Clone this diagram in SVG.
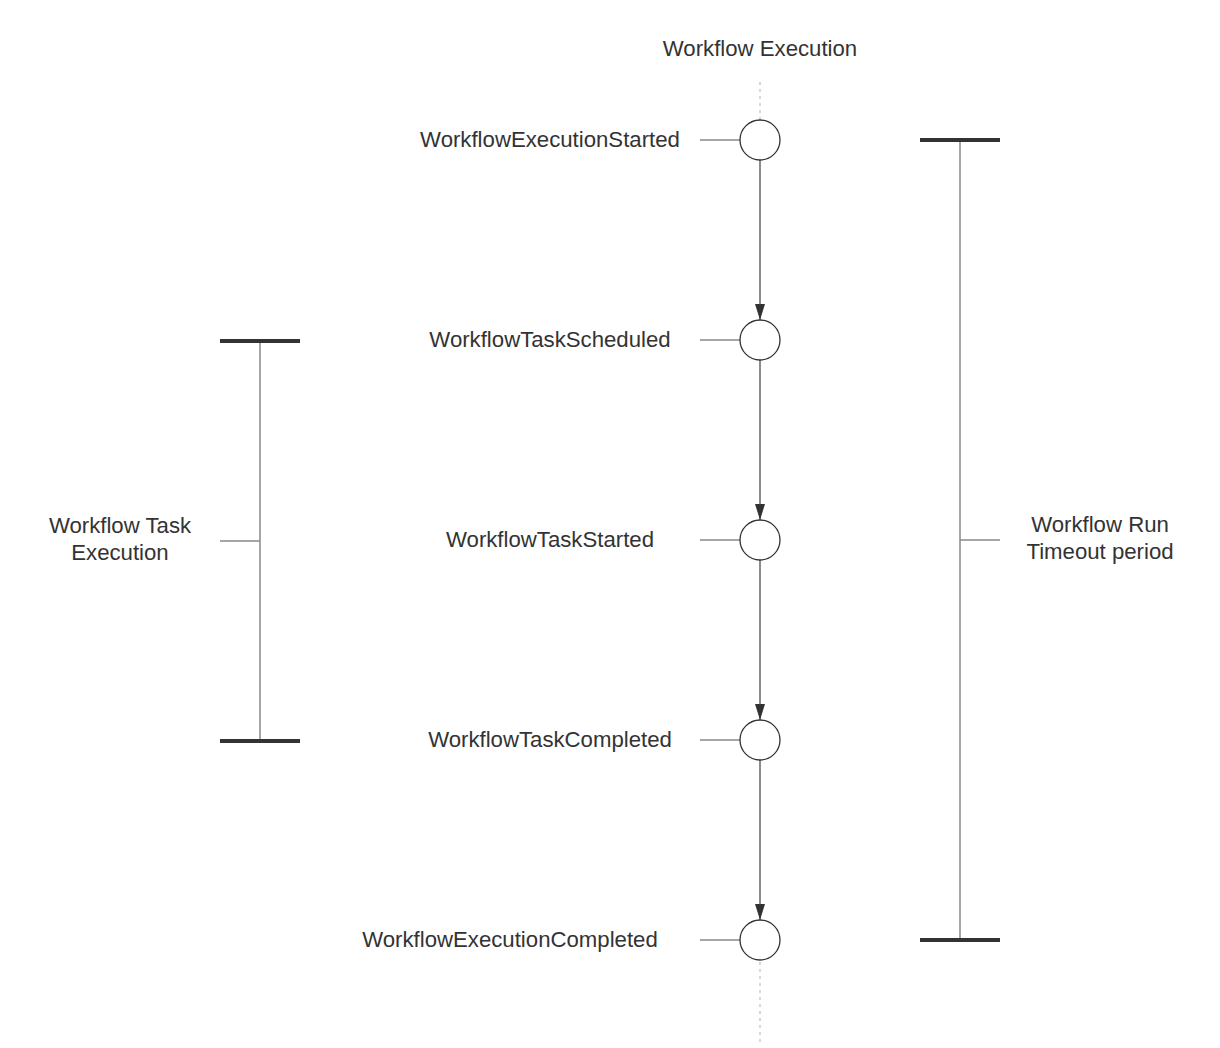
<svg xmlns="http://www.w3.org/2000/svg" width="1220" height="1048" viewBox="0 0 1220 1048">
<defs>
<marker id="ah" markerWidth="16" markerHeight="10" refX="16" refY="5" orient="auto" markerUnits="userSpaceOnUse" viewBox="0 0 16 10">
<path d="M0,0 L16,5 L0,10 Z" fill="#333"/>
</marker>
</defs>
<style>
text{font-family:"Liberation Sans",Arial,sans-serif;font-size:22.2px;fill:#333;text-anchor:middle}
.ln{stroke:#888;stroke-width:1.5;fill:none}
.bar{stroke:#333;stroke-width:4;fill:none}
.dot{stroke:#ccc;stroke-width:1.5;stroke-dasharray:3 4;fill:none}
.ev{fill:#fff;stroke:#333;stroke-width:1.3}
.arr{stroke:#666;stroke-width:1.5;fill:none}
</style>
<rect width="1220" height="1048" fill="#fff"/>
<text x="760" y="56">Workflow Execution</text>
<g id="lifeline">
<line class="dot" x1="760" y1="82" x2="760" y2="120"/>
<line class="dot" x1="760" y1="962" x2="760" y2="1042"/>
</g>
<g id="connectors">
<line class="arr" x1="760" y1="160" x2="760" y2="320" marker-end="url(#ah)"/>
<line class="arr" x1="760" y1="360" x2="760" y2="520" marker-end="url(#ah)"/>
<line class="arr" x1="760" y1="560" x2="760" y2="720" marker-end="url(#ah)"/>
<line class="arr" x1="760" y1="760" x2="760" y2="920" marker-end="url(#ah)"/>
</g>
<g id="ev1">
<line class="ln" x1="700" y1="140" x2="740" y2="140"/>
<circle class="ev" cx="760" cy="140" r="20"/>
<text x="550" y="147">WorkflowExecutionStarted</text>
</g>
<g id="ev2">
<line class="ln" x1="700" y1="340" x2="740" y2="340"/>
<circle class="ev" cx="760" cy="340" r="20"/>
<text x="550" y="347">WorkflowTaskScheduled</text>
</g>
<g id="ev3">
<line class="ln" x1="700" y1="540" x2="740" y2="540"/>
<circle class="ev" cx="760" cy="540" r="20"/>
<text x="550" y="547">WorkflowTaskStarted</text>
</g>
<g id="ev4">
<line class="ln" x1="700" y1="740" x2="740" y2="740"/>
<circle class="ev" cx="760" cy="740" r="20"/>
<text x="550" y="747">WorkflowTaskCompleted</text>
</g>
<g id="ev5">
<line class="ln" x1="700" y1="940" x2="740" y2="940"/>
<circle class="ev" cx="760" cy="940" r="20"/>
<text x="510" y="947">WorkflowExecutionCompleted</text>
</g>
<g id="task-span">
<line class="ln" x1="260" y1="341" x2="260" y2="740"/>
<line class="bar" x1="220" y1="341" x2="300" y2="341"/>
<line class="bar" x1="220" y1="741" x2="300" y2="741"/>
<line class="ln" x1="220" y1="541" x2="260" y2="541"/>
<text x="120" y="533">Workflow Task</text>
<text x="120" y="560">Execution</text>
</g>
<g id="run-span">
<line class="ln" x1="960" y1="140" x2="960" y2="940"/>
<line class="bar" x1="920" y1="140" x2="1000" y2="140"/>
<line class="bar" x1="920" y1="940" x2="1000" y2="940"/>
<line class="ln" x1="960" y1="540" x2="1000" y2="540"/>
<text x="1100" y="532">Workflow Run</text>
<text x="1100" y="559">Timeout period</text>
</g>
</svg>
